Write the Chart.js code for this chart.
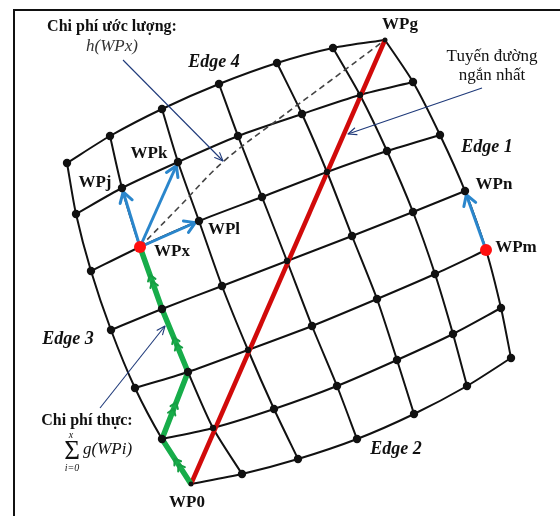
<!DOCTYPE html>
<html>
<head>
<meta charset="utf-8">
<script src="https://cdn.jsdelivr.net/npm/chart.js@4.4.1/dist/chart.umd.min.js"></script>
<style>
  html, body { margin: 0; padding: 0; background: #fff; }
  #wrap { position: relative; width: 560px; height: 516px; }
  #frame { position: absolute; left: 13px; top: 9px; right: 0; bottom: 0;
           border-top: 2px solid #111; border-left: 2px solid #111; pointer-events: none; }
</style>
</head>
<body>
<div id="wrap"><canvas id="grid"></canvas><div id="frame"></div></div>
<script>
// grid nodes, row i = 0 (Edge 2) .. 6 (Edge 4), column j = 0 (Edge 3) .. 6 (Edge 1)
const gridX = [
  [191, 242, 298, 357, 414, 467, 511],
  [162, 213, 274, 337, 397, 453, 501],
  [135, 188, 248, 312, 377, 435, 486],
  [111, 162, 222, 287, 352, 413, 465],
  [91, 140, 199, 262, 327, 387, 440],
  [76, 122, 178, 238, 302, 360, 413],
  [67, 110, 162, 219, 277, 333, 385]
]
const gridY = [
  [484, 474, 459, 439, 414, 386, 358],
  [439, 428, 409, 386, 360, 334, 308],
  [388, 372, 350, 326, 299, 274, 250],
  [330, 309, 286, 261, 236, 212, 191],
  [271, 247, 221, 197, 172, 151, 135],
  [214, 188, 162, 136, 114, 95, 82],
  [163, 136, 109, 84, 63, 48, 40]
]

// paths as [row, col] node references
const greenPath = [[0, 0], [1, 0], [2, 1], [3, 1], [4, 1]]
const shortestPath = [[0, 0], [6, 6]]
const blueMoves = [
  [[4, 1], [5, 1]],
  [[4, 1], [5, 2]],
  [[4, 1], [4, 2]],
  [[2, 6], [3, 6]]
]
const redNodes = [[4, 1], [2, 6]]

// estimated cost curve WPx -> WPg
const dashX = [140, 180, 223, 280, 330, 385]
const dashY = [247, 206, 162, 118, 81, 40]

// callout arrows: [fromX, fromY, toX, toY]
const callouts = [
  [123, 60, 223, 161],
  [482, 88, 348, 134],
  [100, 408, 165, 326]
]

const labels = [
  { text: "Chi phí ước lượng:", x: 112, y: 27, font: "head" },
  { text: "h(WPx)", x: 112, y: 47, font: "math", color: "#333" },
  { text: "Edge 4", x: 214, y: 62, font: "edge" },
  { text: "WPg", x: 400, y: 25, font: "wp" },
  { text: "Tuyến đường", x: 492, y: 57, font: "body" },
  { text: "ngắn nhất", x: 492, y: 76, font: "body" },
  { text: "Edge 1", x: 487, y: 147, font: "edge" },
  { text: "WPn", x: 494, y: 185, font: "wp" },
  { text: "WPm", x: 516, y: 248, font: "wp" },
  { text: "WPk", x: 149, y: 154, font: "wp" },
  { text: "WPj", x: 95, y: 183, font: "wp" },
  { text: "WPl", x: 224, y: 230, font: "wp" },
  { text: "WPx", x: 172, y: 252, font: "wp" },
  { text: "Edge 3", x: 68, y: 339, font: "edge" },
  { text: "Chi phí thực:", x: 87, y: 421, font: "head" },
  { text: "Σ", x: 72, y: 452, font: "sigma" },
  { text: "x", x: 71, y: 435, font: "tiny" },
  { text: "i=0", x: 72, y: 468, font: "tiny" },
  { text: "g(WPi)", x: 83, y: 450, font: "math", align: "left" },
  { text: "WP0", x: 187, y: 503, font: "wp" },
  { text: "Edge 2", x: 396, y: 449, font: "edge" }
]

const fonts = {
  head: "bold 16px 'Liberation Serif'",
  wp: "bold 17px 'Liberation Serif'",
  edge: "bold italic 18px 'Liberation Serif'",
  body: "17px 'Liberation Serif'",
  math: "italic 17px 'Liberation Serif'",
  sigma: "27px 'Liberation Serif'",
  tiny: "italic 10px 'Liberation Serif'"
}

const node = ([i, j]) => ({ x: gridX[i][j], y: gridY[i][j] })

function lineSet(points, color, width, order, extra) {
  return Object.assign({
    data: points,
    showLine: true,
    borderColor: color,
    borderWidth: width,
    pointRadius: 0,
    tension: 0,
    fill: false,
    order
  }, extra || {})
}

const datasets = []

for (let i = 0; i < 7; i++) {
  const row = gridX[i].map((x, j) => ({ x, y: gridY[i][j] }))
  datasets.push(lineSet(row, "#111", 2, 20, { tension: 0.25 }))
  const col = gridX.map((r, k) => ({ x: r[i], y: gridY[k][i] }))
  datasets.push(lineSet(col, "#111", 2, 20, { tension: 0.25 }))
}

datasets.push(lineSet(dashX.map((x, k) => ({ x, y: dashY[k] })), "#444", 1.6, 18,
  { tension: 0.4, borderDash: [6, 4] }))

datasets.push(lineSet(shortestPath.map(node), "#d10a0a", 4.5, 15))
datasets.push(lineSet(greenPath.map(node), "#17ad4a", 5.5, 14, { chevrons: true }))

blueMoves.forEach(m => datasets.push(lineSet(m.map(node), "#2a86cc", 3, 12, { arrow: "blue" })))

callouts.forEach(c => datasets.push(lineSet([{ x: c[0], y: c[1] }, { x: c[2], y: c[3] }],
  "#1f3a7a", 1.1, 11, { arrow: "thin" })))

const allNodes = []
gridX.forEach((r, i) => r.forEach((x, j) => allNodes.push({ x, y: gridY[i][j], i, j })))

datasets.push({
  data: allNodes,
  showLine: false,
  backgroundColor: "#111",
  borderWidth: 0,
  pointRadius: (ctx) => {
    const p = ctx.raw
    if (!p) return 0
    if ((p.i === 0 && p.j === 0) || (p.i === 6 && p.j === 6)) return 2.5
    if (p.i === p.j) return 3.2
    return 4.2
  },
  order: 5
})

datasets.push({
  data: redNodes.map(node),
  showLine: false,
  backgroundColor: "#ff1010",
  borderWidth: 0,
  pointRadius: 6,
  order: 1
})

function drawHead(ctx, x1, y1, x2, y2, len, spread, back) {
  const a = Math.atan2(y2 - y1, x2 - x1)
  const tx = x2 - back * Math.cos(a)
  const ty = y2 - back * Math.sin(a)
  ctx.beginPath()
  ctx.moveTo(tx - len * Math.cos(a - spread), ty - len * Math.sin(a - spread))
  ctx.lineTo(tx, ty)
  ctx.lineTo(tx - len * Math.cos(a + spread), ty - len * Math.sin(a + spread))
  ctx.stroke()
}

const decorations = {
  id: "decorations",
  afterDatasetDraw(chart, args) {
    const ds = chart.data.datasets[args.index]
    const pts = args.meta.data
    const ctx = chart.ctx
    ctx.save()
    ctx.lineCap = "round"
    ctx.lineJoin = "round"
    if (ds.arrow) {
      const a = pts[0], b = pts[pts.length - 1]
      ctx.strokeStyle = ds.borderColor
      if (ds.arrow === "blue") {
        ctx.lineWidth = 3
        drawHead(ctx, a.x, a.y, b.x, b.y, 12, 0.55, 4)
      } else {
        ctx.lineWidth = 1.1
        drawHead(ctx, a.x, a.y, b.x, b.y, 9, 0.4, 0)
      }
    }
    if (ds.chevrons) {
      ctx.strokeStyle = "#169e43"
      ctx.lineWidth = 2
      for (let k = 0; k < pts.length - 1; k++) {
        const a = pts[k], b = pts[k + 1]
        const ang = Math.atan2(b.y - a.y, b.x - a.x)
        const mx = (a.x + b.x) / 2, my = (a.y + b.y) / 2
        for (const off of [-3.5, 3.5]) {
          const cx = mx + off * Math.cos(ang), cy = my + off * Math.sin(ang)
          ctx.beginPath()
          ctx.moveTo(cx - 7 * Math.cos(ang - 0.6), cy - 7 * Math.sin(ang - 0.6))
          ctx.lineTo(cx, cy)
          ctx.lineTo(cx - 7 * Math.cos(ang + 0.6), cy - 7 * Math.sin(ang + 0.6))
          ctx.stroke()
        }
      }
    }
    ctx.restore()
  },
  afterDraw(chart) {
    const ctx = chart.ctx
    const sx = chart.scales.x, sy = chart.scales.y
    ctx.save()
    ctx.textBaseline = "middle"
    labels.forEach(l => {
      ctx.font = fonts[l.font]
      ctx.fillStyle = l.color || "#111"
      ctx.textAlign = l.align || "center"
      ctx.fillText(l.text, sx.getPixelForValue(l.x), sy.getPixelForValue(l.y))
    })
    ctx.restore()
  }
}

new Chart(document.getElementById("grid"), {
  type: "scatter",
  data: { datasets },
  options: {
    responsive: true,
    maintainAspectRatio: false,
    animation: false,
    layout: { padding: 0, autoPadding: false },
    plugins: { legend: { display: false }, tooltip: { enabled: false } },
    scales: {
      x: { type: "linear", min: 0, max: 560, display: false },
      y: { type: "linear", min: 0, max: 516, reverse: true, display: false }
    }
  },
  plugins: [decorations]
})
</script>
</body>
</html>
